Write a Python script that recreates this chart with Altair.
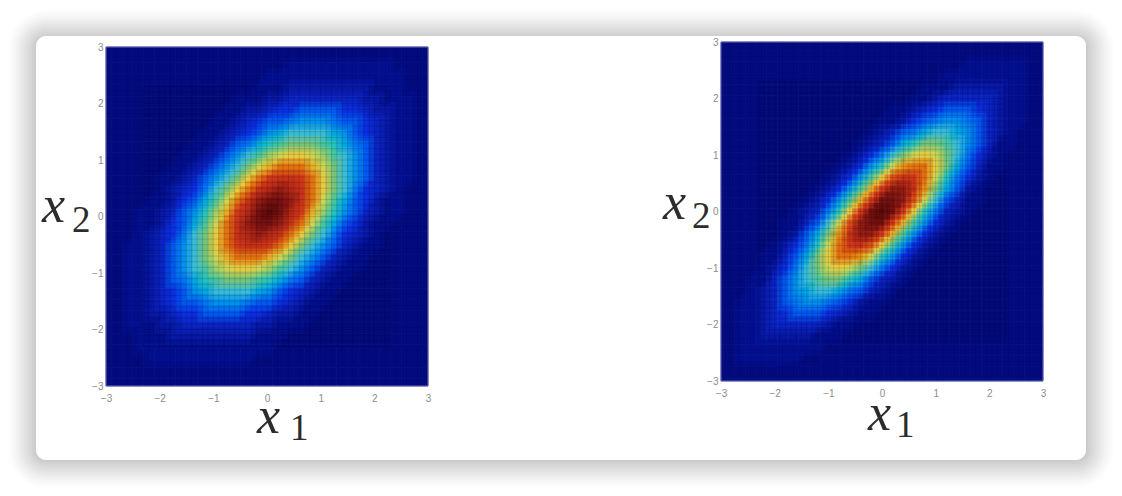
import altair as alt
import pandas as pd

TICKS = [-3, -2, -1, 0, 1, 2, 3]
GRID_X = [round(-3 + 0.2 * i, 1) for i in range(31)]
GRID_Y = [round(3 - 0.2 * i, 1) for i in range(31)]
MESH = [round(-2.3 + 0.1 * i, 1) for i in range(47)]

# Density levels (0-25), rows from x2 = 3 down to x2 = -3
LEFT = [
    [0]*31,
    [0]*31,
    [0]*17+[1]*10+[0]*4,
    [0]*15+[1]*13+[0]*3,
    [0]*14+[1,1,1,2,2,2,2,2,2,2,2,1,1,1]+[0]*3,
    [0]*12+[1,1,1,2,2,3,3,3,3,3,3,3,2,2,1,1,1,0,0],
    [0,0,0,0,0,0,0,0,0,0,0,1,1,2,2,3,4,4,5,5,5,5,4,4,3,2,2,1,1,0,0],
    [0,0,0,0,0,0,0,0,0,0,1,1,2,3,4,5,5,6,7,7,7,6,5,5,4,3,2,1,1,0,0],
    [0,0,0,0,0,0,0,0,0,1,1,2,3,4,5,7,8,9,9,9,9,8,7,5,4,3,2,1,1,0,0],
    [0,0,0,0,0,0,0,0,1,1,2,3,5,6,8,10,11,12,12,12,11,10,8,6,5,3,2,1,1,0,0],
    [0,0,0,0,0,0,0,1,1,2,3,5,7,9,11,13,14,15,15,14,13,11,9,7,5,3,2,1,1,0,0],
    [0,0,0,0,0,0,1,1,2,3,5,7,9,12,14,16,18,18,18,16,14,12,9,7,5,3,2,1,1,0,0],
    [0,0,0,0,0,1,1,2,3,5,7,9,12,15,18,20,21,21,20,18,15,12,9,7,5,3,2,1,1,0,0],
    [0,0,0,0,0,1,2,3,4,6,9,12,15,18,21,22,23,22,21,18,15,12,9,6,4,3,2,1,0,0,0],
    [0,0,0,0,1,1,2,4,5,8,11,14,18,21,23,24,24,23,21,18,14,11,8,5,4,2,1,1,0,0,0],
    [0,0,0,1,1,2,3,5,7,10,13,16,20,22,24,25,24,22,20,16,13,10,7,5,3,2,1,1,0,0,0],
    [0,0,0,1,1,2,4,5,8,11,14,18,21,23,24,24,23,21,18,14,11,8,5,4,2,1,1,0,0,0,0],
    [0,0,0,1,2,3,4,6,9,12,15,18,21,22,23,22,21,18,15,12,9,6,4,3,2,1,0,0,0,0,0],
    [0,0,1,1,2,3,5,7,9,12,15,18,20,21,21,20,18,15,12,9,7,5,3,2,1,1,0,0,0,0,0],
    [0,0,1,1,2,3,5,7,9,12,14,16,18,18,18,16,14,12,9,7,5,3,2,1,1,0,0,0,0,0,0],
    [0,0,1,1,2,3,5,7,9,11,13,14,15,15,14,13,11,9,7,5,3,2,1,1,0,0,0,0,0,0,0],
    [0,0,1,1,2,3,5,6,8,10,11,12,12,12,11,10,8,6,5,3,2,1,1,0,0,0,0,0,0,0,0],
    [0,0,1,1,2,3,4,5,7,8,9,9,9,9,8,7,5,4,3,2,1,1,0,0,0,0,0,0,0,0,0],
    [0,0,1,1,2,3,4,5,5,6,7,7,7,6,5,5,4,3,2,1,1,0,0,0,0,0,0,0,0,0,0],
    [0,0,1,1,2,2,3,4,4,5,5,5,5,4,4,3,2,2,1,1,0,0,0,0,0,0,0,0,0,0,0],
    [0,0,1,1,1,2,2,3,3,3,3,3,3,3,2,2,1,1,1]+[0]*12,
    [0]*3+[1,1,1,2,2,2,2,2,2,2,2,1,1,1]+[0]*14,
    [0]*3+[1]*13+[0]*15,
    [0]*4+[1]*10+[0]*17,
    [0]*31,
    [0]*31,
]

RIGHT = [
    [0]*31,
    [0]*31,
    [0]*23+[1]*6+[0]*2,
    [0]*21+[1]*8+[0]*2,
    [0]*19+[1,1,1,2,2,2,2,2,1,1]+[0]*2,
    [0]*18+[1,1,2,3,3,3,3,3,2,1,1]+[0]*2,
    [0]*16+[1,1,2,3,4,5,5,5,4,3,2,1,1]+[0]*2,
    [0]*15+[1,1,2,4,5,6,7,7,6,5,3,2,1,1]+[0]*2,
    [0]*14+[1,2,3,5,6,8,9,9,8,7,5,3,2,1]+[0]*3,
    [0]*13+[1,2,3,5,8,10,12,12,11,9,7,5,3,1,1]+[0]*3,
    [0]*12+[1,2,4,6,9,12,14,15,14,12,9,6,4,2,1]+[0]*4,
    [0]*11+[1,2,4,7,10,14,17,18,18,15,12,8,5,3,1,1]+[0]*4,
    [0]*10+[1,2,4,7,11,15,19,21,20,18,14,10,6,4,2,1]+[0]*5,
    [0]*9+[1,2,4,7,11,16,20,23,23,21,17,12,8,5,2,1]+[0]*6,
    [0]*8+[1,2,4,7,11,16,20,24,24,23,19,14,9,5,3,1,1]+[0]*6,
    [0]*7+[1,2,3,6,10,15,20,24,25,24,20,15,10,6,3,2,1]+[0]*7,
    [0]*6+[1,1,3,5,9,14,19,23,24,24,20,16,11,7,4,2,1]+[0]*8,
    [0]*6+[1,2,5,8,12,17,21,23,23,20,16,11,7,4,2,1]+[0]*9,
    [0]*5+[1,2,4,6,10,14,18,20,21,19,15,11,7,4,2,1]+[0]*10,
    [0]*4+[1,1,3,5,8,12,15,18,18,17,14,10,7,4,2,1]+[0]*11,
    [0]*4+[1,2,4,6,9,12,14,15,14,12,9,6,4,2,1]+[0]*12,
    [0]*3+[1,1,3,5,7,9,11,12,12,10,8,5,3,2,1]+[0]*13,
    [0]*3+[1,2,3,5,7,8,9,9,8,6,5,3,2,1]+[0]*14,
    [0]*2+[1,1,2,3,5,6,7,7,6,5,4,2,1,1]+[0]*15,
    [0]*2+[1,1,2,3,4,5,5,5,4,3,2,1,1]+[0]*16,
    [0]*2+[1,1,2,3,3,3,3,3,2,1,1]+[0]*18,
    [0]*2+[1,1,2,2,2,2,2,1,1,1]+[0]*19,
    [0]*2+[1]*8+[0]*21,
    [0]*2+[1]*6+[0]*23,
    [0]*31,
    [0]*31,
]

COLOR_STOPS = [0, 1, 4, 9.0, 12, 14.5, 19.5, 21.5, 24, 25]
COLOR_RANGE = ["#020a7c", "#020e8c", "#0a2ee0", "#38bcd8", "#74c47c", "#e8d84c",
               "#da3c1a", "#c02e16", "#741010", "#5a0808"]
color_scale = alt.Scale(domain=COLOR_STOPS, range=COLOR_RANGE)
SHADOW_ALPHA = [0.006, 0.008, 0.01, 0.012, 0.013, 0.014, 0.015, 0.015, 0.016, 0.016, 0.017, 0.017, 0.018, 0.018]


def table(rows, shift, dx, dy):
    out = []
    for y, row in zip(GRID_Y, rows):
        for x, v in zip(GRID_X, row):
            out.append({"x0": x - 0.1 + shift + dx, "x1": x + 0.1 + shift + dx,
                        "y0": y - 0.1 + shift + dy, "y1": y + 0.1 + shift + dy, "v": v})
    return pd.DataFrame(out)


def panel(rows, y_range, group_x, texts, dx, dy):
    xs = alt.Scale(domain=[-3, 3], nice=False, zero=False, clamp=True)
    ys = alt.Scale(domain=[-3, 3], nice=False, zero=False, clamp=True, range=y_range)
    axis_style = dict(values=TICKS, format="d", title=None, grid=False, domain=False, ticks=False,
                      labelFontSize=10, labelFont="Liberation Sans", labelColor="#8c8c8c",
                      labelFlush=False, zindex=1)
    ax_x = alt.Axis(labelPadding=7, **axis_style)
    ax_y = alt.Axis(labelPadding=3, **axis_style)
    base = alt.Chart(table(rows, -0.05, dx, dy)).mark_rect(strokeWidth=0.6).encode(
        x=alt.X("x0:Q", scale=xs, axis=ax_x), x2="x1:Q",
        y=alt.Y("y0:Q", scale=ys, axis=ax_y), y2="y1:Q",
        color=alt.Color("v:Q", scale=color_scale, legend=None),
        stroke=alt.Stroke("v:Q", scale=color_scale, legend=None),
    )
    half = alt.Chart(table(rows, 0.05, dx, dy)).mark_rect(opacity=0.5).encode(
        x=alt.X("x0:Q", scale=xs, axis=ax_x), x2="x1:Q",
        y=alt.Y("y0:Q", scale=ys, axis=ax_y), y2="y1:Q",
        color=alt.Color("v:Q", scale=color_scale, legend=None),
    )
    mesh_df = pd.DataFrame({"m": MESH})
    mesh_v = alt.Chart(mesh_df).mark_rule(color="#000000", opacity=0.14, strokeWidth=1).encode(
        x=alt.X("m:Q", scale=xs, axis=ax_x),
        y=alt.Y(datum=-2.3, scale=ys, axis=ax_y), y2=alt.Y2(datum=2.3),
    )
    mesh_h = alt.Chart(mesh_df).mark_rule(color="#000000", opacity=0.14, strokeWidth=1).encode(
        y=alt.Y("m:Q", scale=ys, axis=ax_y),
        x=alt.X(datum=-2.3, scale=xs, axis=ax_x), x2=alt.X2(datum=2.3),
    )
    border = alt.Chart(pd.DataFrame({"a": [0]})).mark_rect(
        fillOpacity=0, stroke="#6a6ab8", strokeWidth=1).encode(
        x=alt.X(datum=-3, scale=xs, axis=ax_x), x2=alt.X2(datum=3),
        y=alt.Y(datum=-3, scale=ys, axis=ax_y), y2=alt.Y2(datum=3),
    )
    marks = [base, half, mesh_v, mesh_h, border]
    for s, px, py, size, italic in texts:
        marks.append(alt.Chart(pd.DataFrame({"t": [s]})).mark_text(
            font="Liberation Serif", fontSize=size, fontStyle="italic" if italic else "normal",
            align="left", baseline="alphabetic", color="#2c2c2c",
        ).encode(text="t:N", x=alt.value(px - group_x), y=alt.value(py - 42)))
    return marks


# Card and soft shadow, written as page pixels relative to the left panel's origin
OX, OY = 106, 42
card_parts = []
anchor = alt.Chart(pd.DataFrame({"a": [0]})).mark_rect(fillOpacity=0).encode(
    x=alt.value(8 - OX), x2=alt.value(1114 - OX), y=alt.value(8 - OY), y2=alt.value(488 - OY))
card_parts.append(anchor)
for i, e in enumerate(range(28, 0, -2)):
    card_parts.append(alt.Chart(pd.DataFrame({"a": [0]})).mark_rect(
        color="#000000", opacity=SHADOW_ALPHA[i], cornerRadius=10 + e).encode(
        x=alt.value(36 - e - OX), x2=alt.value(1086 + e - OX),
        y=alt.value(38 - e - OY), y2=alt.value(460 + e - OY)))
card_parts.append(alt.Chart(pd.DataFrame({"a": [0]})).mark_rect(
    color="#ffffff", opacity=1, cornerRadius=10).encode(
    x=alt.value(36 - OX), x2=alt.value(1086 - OX), y=alt.value(36 - OY), y2=alt.value(460 - OY)))

left_texts = [("x", 257, 433, 52, True), ("1", 290, 440, 37, False),
              ("x", 42, 222, 52, True), ("2", 72, 232, 37, False)]
right_texts = [("x", 868, 430, 52, True), ("1", 896, 437, 37, False),
               ("x", 663, 219, 52, True), ("2", 692, 228, 37, False)]

left = alt.layer(*card_parts, *panel(LEFT, [344, 5], 106, left_texts, 0.05, 0.08)).properties(width=322, height=344)
right = alt.layer(*panel(RIGHT, [339, 0], 721, right_texts, 0, 0)).properties(width=322, height=339)

chart = alt.hconcat(left, right, spacing=293, bounds="flush").resolve_scale(
    x="independent", y="independent", color="shared", stroke="shared"
).properties(padding=0, background="#ffffff").configure_view(stroke=None)

chart.save("out.html", embed_options={"renderer": "svg", "actions": False})
